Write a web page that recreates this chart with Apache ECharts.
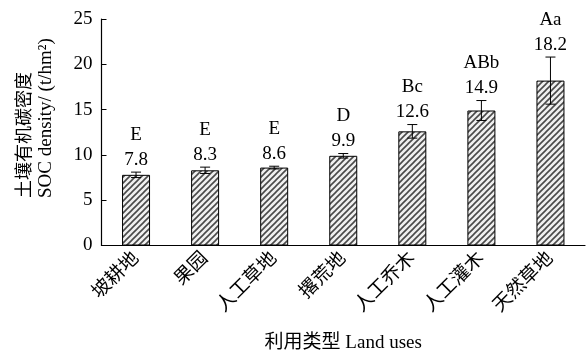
<!DOCTYPE html>
<html>
<head>
<meta charset="utf-8">
<script src="https://cdn.jsdelivr.net/npm/echarts@6/dist/echarts.min.js"></script>
<style>
  html, body { margin: 0; padding: 0; background: #fff; }
  #chart { width: 586px; height: 352px; }
</style>
</head>
<body>
<div id="chart"></div>
<script>
// Land-use categories and soil organic carbon density (t/hm²)
const categories = ['坡耕地', '果园', '人工草地', '撂荒地', '人工乔木', '人工灌木', '天然草地'];
const socMeans = [7.8, 8.3, 8.6, 9.9, 12.6, 14.9, 18.2];
const socErrors = [0.3, 0.35, 0.15, 0.25, 0.75, 1.1, 2.6];
const sigLetters = ['E', 'E', 'E', 'D', 'Bc', 'ABb', 'Aa'];
const yMin = 0, yMax = 25, yStep = 5;

const FONT = "'Liberation Serif', 'Times New Roman', 'Noto Sans CJK SC', serif";

// Diagonal hatch fill for the bars
function hatchPattern() {
  const s = 6;
  const c = document.createElement('canvas');
  c.width = s; c.height = s;
  const g = c.getContext('2d');
  g.fillStyle = '#f0f0f0';
  g.fillRect(0, 0, s, s);
  g.strokeStyle = '#4a4a4a';
  g.lineWidth = 1.6;
  g.beginPath();
  g.moveTo(-1, s + 1); g.lineTo(s + 1, -1);
  g.moveTo(-1, 1); g.lineTo(1, -1);
  g.moveTo(s - 1, s + 1); g.lineTo(s + 1, s - 1);
  g.stroke();
  return c;
}

const chart = echarts.init(document.getElementById('chart'), null, { renderer: 'canvas' });

const option = {
  animation: false,
  backgroundColor: '#fff',
  grid: {
    left: 101.5, right: 1, top: 19, bottom: 106.5,
    containLabel: false, outerBoundsMode: 'none'
  },
  xAxis: {
    type: 'category',
    data: categories,
    boundaryGap: true,
    axisLine: { lineStyle: { color: '#000', width: 1.2 } },
    axisTick: { inside: true, length: 5, lineStyle: { color: '#000' } },
    axisLabel: {
      rotate: 45, margin: 10, color: '#000', fontSize: 19,
      fontFamily: FONT
    },
    name: '利用类型 Land uses',
    nameLocation: 'middle',
    nameGap: 88,
    nameTextStyle: { color: '#000', fontSize: 19, fontFamily: FONT }
  },
  yAxis: {
    type: 'value',
    min: yMin, max: yMax, interval: yStep,
    splitLine: { show: false },
    axisLine: { show: true, lineStyle: { color: '#000', width: 1.2 } },
    axisTick: { show: true, inside: true, length: 5, lineStyle: { color: '#000' } },
    axisLabel: { color: '#000', fontSize: 19, fontFamily: FONT, margin: 9 }
  },
  graphic: [
    {
      type: 'text', x: 23, y: 198, rotation: Math.PI / 2,
      style: {
        text: '土壤有机碳密度', fill: '#000',
        font: "18px 'Noto Sans CJK SC', serif",
        align: 'left', verticalAlign: 'middle'
      }
    },
    {
      type: 'text', x: 46, y: 198, rotation: Math.PI / 2,
      style: {
        text: 'SOC density/ (t/hm²)', fill: '#000',
        font: "19px " + FONT,
        align: 'left', verticalAlign: 'middle'
      }
    }
  ],
  series: [
    {
      type: 'bar',
      data: socMeans,
      barWidth: 28,
      itemStyle: {
        color: { image: hatchPattern(), repeat: 'repeat' },
        borderColor: '#000',
        borderWidth: 1
      },
      z: 2
    },
    {
      type: 'custom',
      z: 5,
      data: categories.map((c, i) => [i, socMeans[i], socErrors[i]]),
      renderItem: function (params, api) {
        const i = api.value(0);
        const m = api.value(1);
        const e = api.value(2);
        const hi = api.coord([i, m + e]);
        const lo = api.coord([i, m - e]);
        const hw = 5;
        const st = { stroke: '#000', lineWidth: 1 };
        return {
          type: 'group',
          children: [
            { type: 'line', shape: { x1: hi[0], y1: hi[1], x2: lo[0], y2: lo[1] }, style: st },
            { type: 'line', shape: { x1: hi[0] - hw, y1: hi[1], x2: hi[0] + hw, y2: hi[1] }, style: st },
            { type: 'line', shape: { x1: lo[0] - hw, y1: lo[1], x2: lo[0] + hw, y2: lo[1] }, style: st },
            {
              type: 'text',
              style: {
                text: sigLetters[params.dataIndex] + '\n' + m.toFixed(1),
                x: hi[0], y: hi[1],
                align: 'center', verticalAlign: 'bottom',
                font: '19px ' + FONT,
                lineHeight: 25,
                fill: '#000'
              }
            }
          ]
        };
      }
    }
  ]
};

chart.setOption(option);
</script>
</body>
</html>
